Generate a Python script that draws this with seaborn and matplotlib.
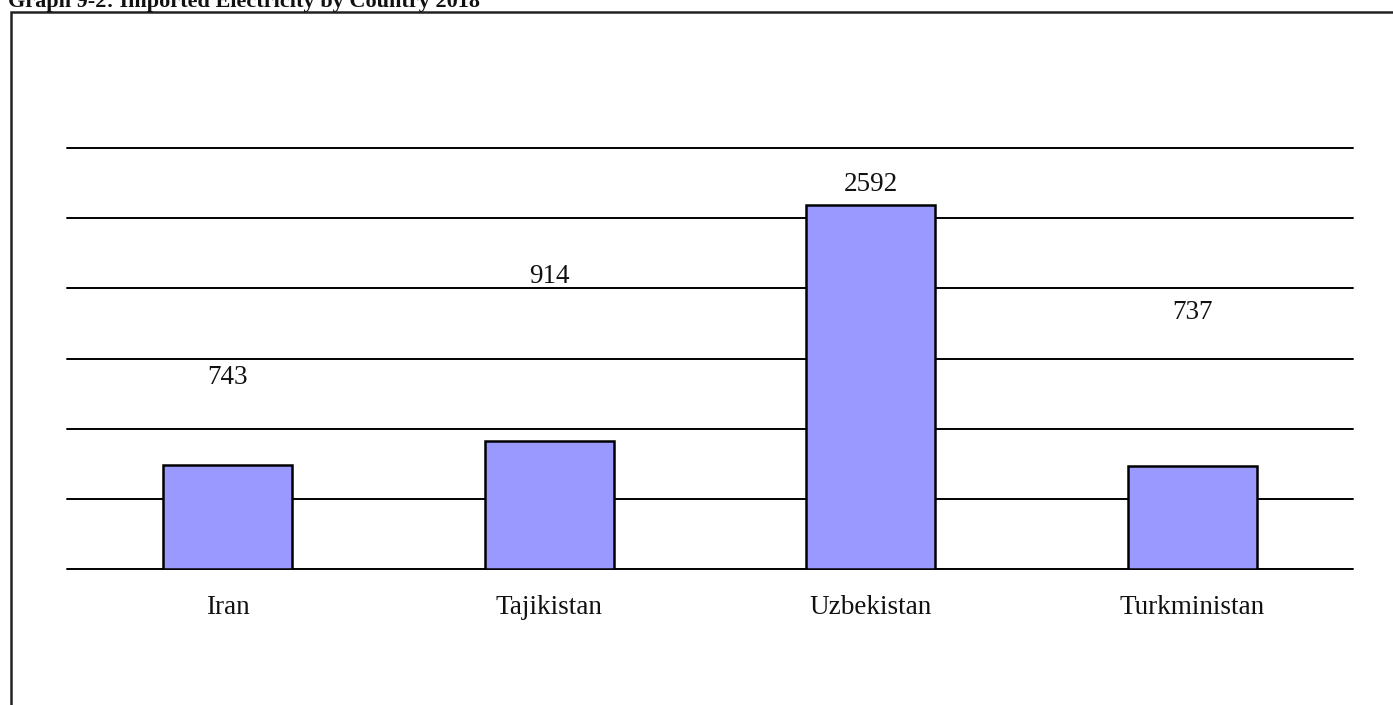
import matplotlib
matplotlib.use("Agg")
import matplotlib.pyplot as plt
from matplotlib.patches import Rectangle
import seaborn as sns
import pandas as pd

countries = ["Iran", "Tajikistan", "Uzbekistan", "Turkministan"]
imported = [743, 914, 2592, 737]
# vertical placement of each value label (data units, text centre)
label_y = [1364, 2086, 2743, 1829]

sns.set_theme(style="white")
plt.rcParams["font.family"] = ["Liberation Serif", "DejaVu Serif"]

df = pd.DataFrame({"country": countries, "value": imported})

fig = plt.figure(figsize=(13.93, 7.05), dpi=100)

# outer chart frame (runs off the right and bottom edges)
fig.patches.append(Rectangle((11 / 1393, -0.05), 1.2, 1 - 12 / 705 + 0.05,
                             transform=fig.transFigure, fill=False,
                             edgecolor="#222222", linewidth=1.8, zorder=0))

fig.text(8 / 1393, 1 - 7 / 705, "Graph 9-2: Imported Electricity by Country 2018",
         ha="left", va="baseline", fontsize=16, fontweight="bold", color="#111111")

ax = fig.add_axes([67 / 1393, 1 - 569 / 705, (1353 - 67) / 1393, (569 - 148) / 705])
ax.set_facecolor("none")

sns.barplot(data=df, x="country", y="value", color="#9999FF", saturation=1,
            edgecolor="black", linewidth=1.8, width=0.4, ax=ax, zorder=3)

ax.set_ylim(0, 3000)
ax.set_yticks(range(0, 3001, 500))
ax.yaxis.grid(True, color="black", linewidth=1.4, zorder=0)
for gl in ax.get_ygridlines():
    gl.set_clip_on(False)
ax.set_axisbelow(True)
ax.tick_params(axis="y", left=False, labelleft=False)
ax.tick_params(axis="x", bottom=False, labelsize=19.5, pad=13, colors="#111111")
for s in ax.spines.values():
    s.set_visible(False)
ax.set_xlabel("")
ax.set_ylabel("")

for i, (v, ly) in enumerate(zip(imported, label_y)):
    ax.text(i, ly, str(v), ha="center", va="center", fontsize=19.5, color="#111111")

fig.savefig("out.png", dpi=100)
